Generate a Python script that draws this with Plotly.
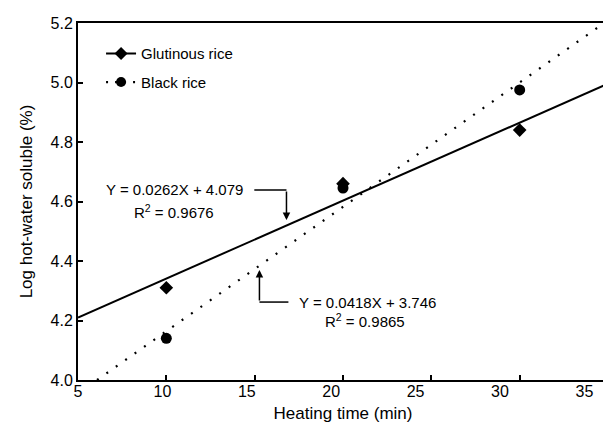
import plotly.graph_objects as go
import numpy as np

# Data
heating_time = [10, 20, 30]
glutinous = [4.31, 4.66, 4.84]
black = [4.14, 4.645, 4.975]
glut_fit = (0.0262, 4.079)
black_fit = (0.0418, 3.746)
x_ticks = [5, 10, 15, 20, 25, 30, 35]
y_ticks = [4.0, 4.2, 4.4, 4.6, 4.8, 5.0, 5.2]

FONT = "Liberation Sans, Arial, sans-serif"
DOT = "2px,9.5px"

fx = np.array([5, 35])
bx = np.array([(4.0 - black_fit[1]) / black_fit[0], 35])

fig = go.Figure()

fig.add_trace(go.Scatter(x=fx, y=glut_fit[0]*fx + glut_fit[1], mode="lines",
                         line=dict(color="black", width=2), showlegend=False, hoverinfo="skip"))
fig.add_trace(go.Scatter(x=bx, y=black_fit[0]*bx + black_fit[1], mode="lines",
                         line=dict(color="black", width=2.2, dash=DOT), showlegend=False, hoverinfo="skip"))

fig.add_trace(go.Scatter(x=heating_time, y=glutinous, mode="markers", showlegend=False,
                         marker=dict(symbol="diamond", size=10.5, color="black")))
fig.add_trace(go.Scatter(x=heating_time, y=black, mode="markers", showlegend=False,
                         marker=dict(symbol="circle", size=11, color="black")))

# legend entries (line + marker)
fig.add_trace(go.Scatter(x=[None], y=[None], mode="lines+markers", name="Glutinous rice", legendgroup="g1",
                         marker=dict(symbol="diamond", size=10, color="black"),
                         line=dict(color="black", width=2)))
fig.add_trace(go.Scatter(x=[None], y=[None], mode="lines+markers", name="Black rice", legendgroup="g2",
                         marker=dict(symbol="circle", size=10, color="black"),
                         line=dict(color="black", width=2.2, dash="2px,7px")))

# Annotation arrows
line_kw = dict(color="black", width=1.5)
fig.add_shape(type="line", x0=14.98, y0=4.639, x1=16.80, y1=4.639, line=line_kw)
fig.add_annotation(x=16.80, y=4.538, ax=16.80, ay=4.639, axref="x", ayref="y",
                   showarrow=True, arrowhead=2, arrowsize=1, arrowwidth=1.5, arrowcolor="black", text="")
fig.add_shape(type="line", x0=15.27, y0=4.262, x1=16.91, y1=4.262, line=line_kw)
fig.add_annotation(x=15.27, y=4.370, ax=15.27, ay=4.262, axref="x", ayref="y",
                   showarrow=True, arrowhead=2, arrowsize=1, arrowwidth=1.5, arrowcolor="black", text="")

ann_font = dict(family=FONT, size=15, color="black")
fig.add_annotation(x=14.47, y=4.639, text="Y = 0.0262X + 4.079", showarrow=False,
                   xanchor="right", yanchor="middle", font=ann_font)
fig.add_annotation(x=12.83, y=4.567, text="R<sup>2</sup> = 0.9676", showarrow=False,
                   xanchor="right", yanchor="middle", font=ann_font)
fig.add_annotation(x=17.42, y=4.262, text="Y = 0.0418X + 3.746", showarrow=False,
                   xanchor="left", yanchor="middle", font=ann_font)
fig.add_annotation(x=23.6, y=4.201, text="R<sup>2</sup> = 0.9865", showarrow=False,
                   xanchor="right", yanchor="middle", font=ann_font)

axis_common = dict(showgrid=False, zeroline=False, showline=True, linecolor="black", linewidth=2,
                   mirror=True, ticks="inside", ticklen=5, tickwidth=1.5, tickcolor="black",
                   automargin=False,
                   tickfont=dict(family=FONT, size=16, color="black"))
fig.update_xaxes(range=[5, 35], tickvals=x_ticks, showticklabels=False, **axis_common)
fig.update_yaxes(range=[4.0, 5.2], tickvals=y_ticks, ticktext=[f"{v:.1f}" for v in y_ticks],
                 title=dict(text="Log hot-water soluble (%)", font=dict(family=FONT, size=17, color="black"), standoff=14),
                 **axis_common)

# label axis: the printed tick labels sit slightly compressed relative to the tick marks
fig.update_layout(xaxis2=dict(overlaying="x", side="bottom", anchor="y", range=[5, 36.4],
                              tickvals=x_ticks, ticktext=[str(v) for v in x_ticks],
                              showgrid=False, zeroline=False, showline=False, ticks="",
                              automargin=False,
                              tickfont=dict(family=FONT, size=16, color="black"),
                              title=dict(text="Heating time (min)", font=dict(family=FONT, size=17, color="black"),
                                         standoff=8)))
fig.add_trace(go.Scatter(x=[5, 35], y=[None, None], xaxis="x2", yaxis="y", showlegend=False,
                         mode="markers", hoverinfo="skip"))

fig.update_layout(width=611, height=432, margin=dict(l=70, r=11, t=15, b=60, autoexpand=False),
                  paper_bgcolor="white", plot_bgcolor="white",
                  font=dict(family=FONT, color="black"),
                  legend=dict(x=0.0435, y=0.96, xanchor="left", yanchor="top", bgcolor="rgba(0,0,0,0)",
                              font=dict(family=FONT, size=15, color="black"), tracegroupgap=6, itemwidth=30),
                  showlegend=True)

fig.write_html("out.html")
